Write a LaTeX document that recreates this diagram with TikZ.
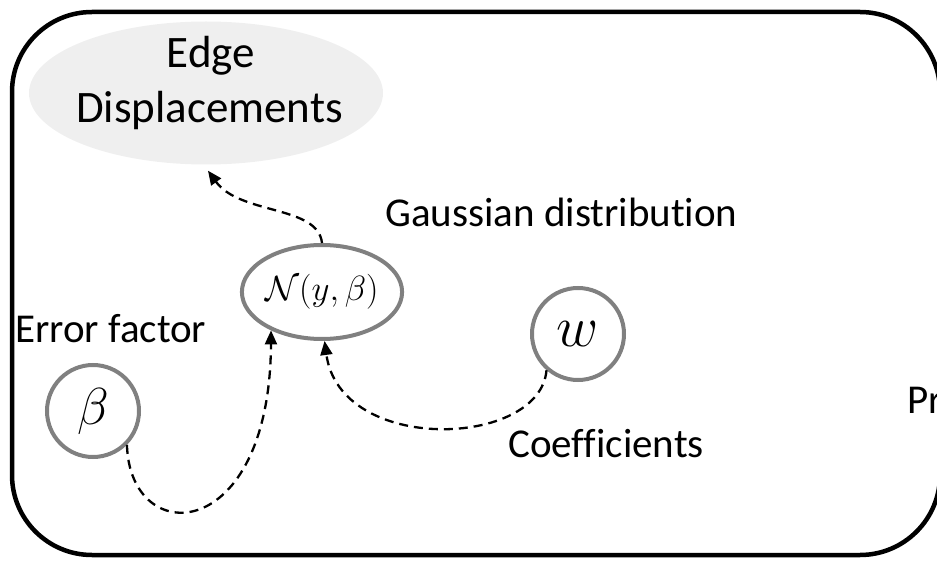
\RequirePackage{fix-cm}
\documentclass[tikz,border=0pt]{standalone}
\usepackage{fontspec}
\setmainfont{Carlito}[Ligatures=CommonOff]
\usetikzlibrary{shapes.geometric,arrows.meta}
\definecolor{edgefill}{RGB}{239,239,239}
\definecolor{nodegray}{RGB}{128,128,128}
\newcommand\mylbl{\fontsize{41}{49}\selectfont}
\newcommand\mybig{\fontsize{45}{54}\selectfont}
\tikzset{
  txt/.style={inner sep=0pt, font=\mylbl},
  bigtxt/.style={inner sep=0pt, font=\mybig},
  varnode/.style={circle, draw=nodegray, line width=4pt, minimum size=92pt, inner sep=0pt},
  conn/.style={draw=black, line width=2.3pt, dash pattern=on 9pt off 6pt, -{Triangle[length=14pt,width=12pt]}}
}
\begin{document}
\begin{tikzpicture}[x=1pt,y=-1pt]
\useasboundingbox (0,0) rectangle (937,561);
\clip (0,0) rectangle (937,561);
\draw[line width=4.5pt, rounded corners=80pt] (12,12) rectangle (940,555);
% Edge displacements
\node[ellipse, fill=edgefill, minimum width=354pt, minimum height=143pt, inner sep=0pt] (ED) at (206,93) {};
\node[bigtxt, anchor=base] (e1) at (211,68) {Edge};
\node[bigtxt, anchor=base] (e2) at (209.5,123) {Displacements};
% Gaussian node
\node[ellipse, draw=nodegray, line width=4pt, minimum width=140pt, minimum height=94pt, inner sep=0pt, font=\fontsize{35}{42}\selectfont] (N) at (322,292) {$\mathcal{N}(y,\beta)$};
\node[varnode, font=\fontsize{52}{62}\selectfont] (B) at (93,411) {$\beta$};
\node[varnode, font=\fontsize{58}{68}\selectfont] (W) at (578,334) {$w$};
% labels
\node[txt, anchor=base west] (gd) at (385,227) {Gaussian distribution};
\node[txt, anchor=base west] (ef) at (15,342) {Error factor};
\node[txt, anchor=base west] (co) at (508,457) {Coefficients};
\node[txt, anchor=base west] (pr) at (907,413) {Pr};
% connectors
\draw[conn] (N.north) .. controls (318,205) and (240,215) .. ([shift={(2,6)}]ED.south);
\draw[conn] (B.-45) .. controls (130,550) and (270,545) .. (N.-143);
\draw[conn] (W.-131) .. controls (540,448) and (340,455) .. (N.-87);
\end{tikzpicture}
\end{document}
